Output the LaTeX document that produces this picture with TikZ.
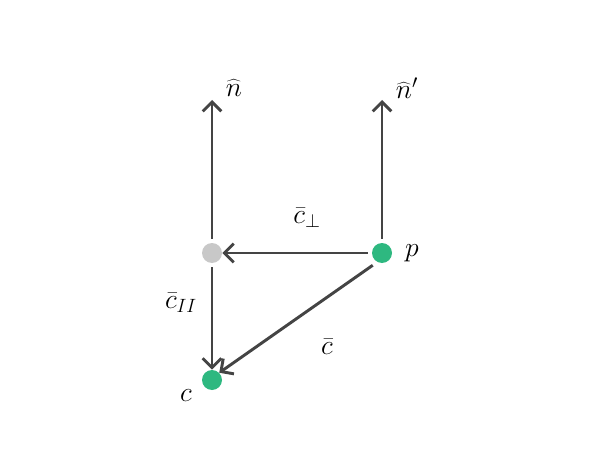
\documentclass[tikz,border=0pt]{standalone}
\usetikzlibrary{arrows.meta}
\begin{document}
\begin{tikzpicture}[x=0.75pt,y=-0.75pt,
  arr/.style={draw={rgb,255:red,68;green,68;blue,68},line width=2.2pt,-{Straight Barb[length=7pt,width=14pt,line width=2.2pt]}},
  gdot/.style={circle,fill={rgb,255:red,46;green,184;blue,128},minimum size=15pt,inner sep=0pt},
  ydot/.style={circle,fill={rgb,255:red,200;green,200;blue,200},minimum size=15pt,inner sep=0pt},
  lbl/.style={font=\fontsize{22}{26}\selectfont}]
\useasboundingbox (0,0) rectangle (600,460);
\node[ydot] (o) at (212,253) {};
\node[gdot] (p) at (382,253) {};
\node[gdot] (c) at (212,380) {};
\coordinate (n) at (212,100);
\coordinate (np) at (382,100);
\draw[arr] (o.north) ++(0,-4) -- (n);
\draw[arr] (p.north) ++(0,-4) -- (np);
\draw[arr] (p.west) ++(-4,0) -- (o.east);
\draw[arr] (o.south) ++(0,4) -- (c.north);
\draw[arr] (p.south west) ++(-2,5) -- (c.north east);
\node[lbl] at (234,88) {$\widehat{n}$};
\node[lbl] at (407,88) {$\widehat{n}'$};
\node[lbl] at (307,218) {$\bar{c}_{\perp}$};
\node[lbl] at (181,303) {$\bar{c}_{II}$};
\node[lbl] at (327,347) {$\bar{c}$};
\node[lbl] at (186,396) {$c$};
\node[lbl] at (412,253) {$p$};
\end{tikzpicture}
\end{document}
